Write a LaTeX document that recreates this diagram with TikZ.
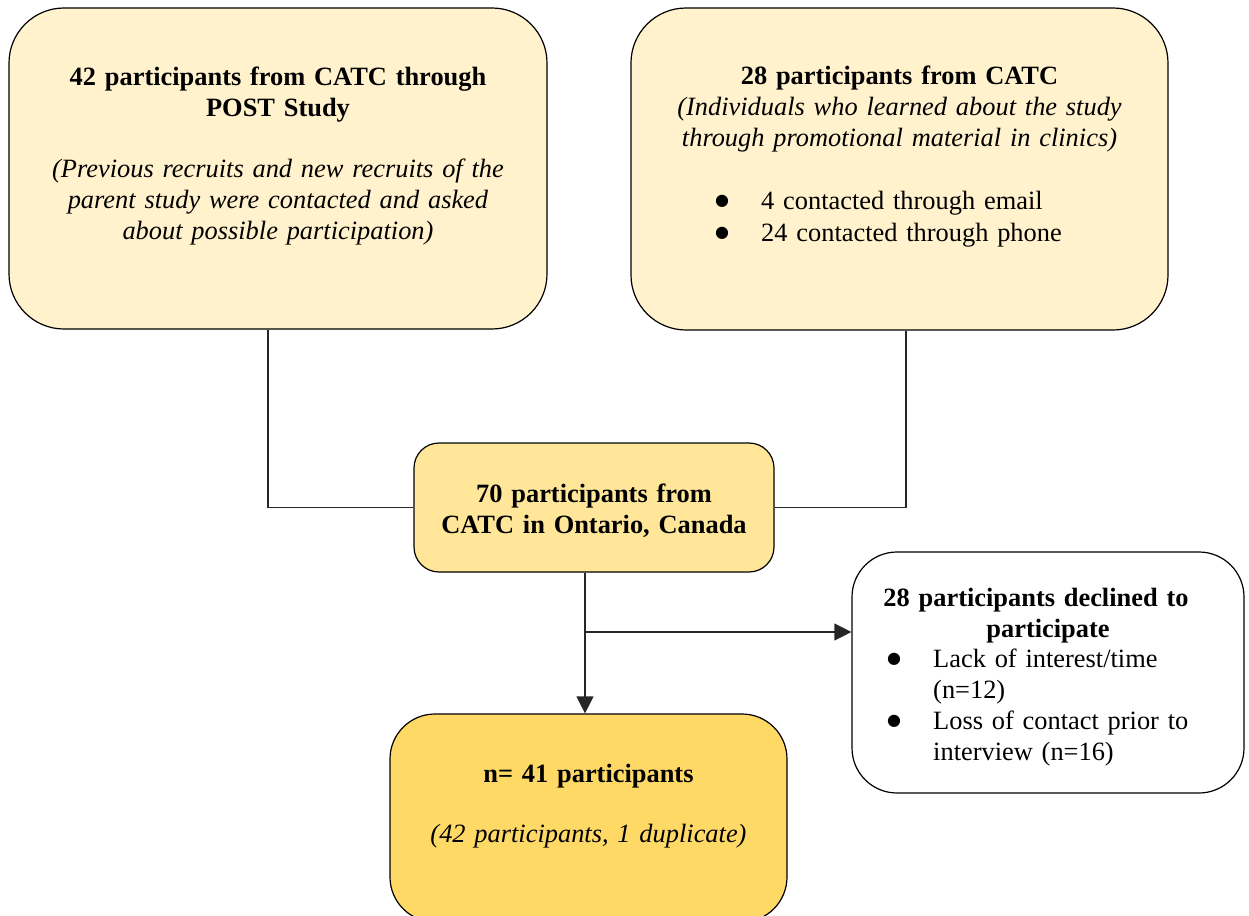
\documentclass[tikz,border=0pt]{standalone}
\usepackage{fontspec}
\setmainfont{Liberation Serif}
\newfontfamily\symfont{DejaVu Sans}
\usetikzlibrary{arrows.meta,calc}
\definecolor{paleyellow}{HTML}{FFF2CC}
\definecolor{midyellow}{HTML}{FFE699}
\definecolor{deepyellow}{HTML}{FFD966}
\tikzset{
  panel/.style={draw=black, line width=1.2pt, rounded corners=#1, inner sep=0pt},
  txt/.style={inner sep=0pt, text width=#1, align=center, anchor=base},
  bullets/.style={inner sep=0pt, text width=#1, align=left, anchor=base west},
  link/.style={draw=black!85, line width=1.2pt},
  tip/.style={link, -{Triangle[length=17pt,width=17pt]}},
  every node/.style={font=\fontsize{26.4}{31}\selectfont}
}
% list marker: a round dot with a fixed gap to the item text
\newcommand{\bul}{\makebox[46pt][l]{\raisebox{4pt}{\symfont\fontsize{16}{31}\selectfont ●}}}
\begin{document}
\begin{tikzpicture}[x=1pt,y=-1pt]
\useasboundingbox (0,0) rectangle (1249,915);

% boxes
\node[panel=55pt, fill=paleyellow, minimum width=538pt, minimum height=321pt] (boxA) at (278,168.5) {};
\node[panel=55pt, fill=paleyellow, minimum width=537pt, minimum height=322pt] (boxB) at (899.5,169) {};
\node[panel=25pt, fill=midyellow, minimum width=360pt, minimum height=129pt] (boxC) at (594,507.5) {};
\node[panel=45pt, fill=white, minimum width=392pt, minimum height=241pt] (boxD) at (1048,672.5) {};
\node[panel=45pt, fill=deepyellow, minimum width=397pt, minimum height=208pt] (boxE) at (588.5,818) {};

% texts of the upper left box
\node[txt=520pt] (tA1) at (278,86) {\textbf{42 participants from CATC through}\\\textbf{POST Study}};
\node[txt=520pt] (tA2) at (278,177) {\textit{(Previous recruits and new recruits of the}\\\textit{parent study were contacted and asked}\\\textit{about possible participation)}};

% texts of the upper right box
\node[txt=520pt] (tB1) at (899.5,85) {\textbf{28 participants from CATC}\\\textit{(Individuals who learned about the study}\\\textit{through promotional material in clinics)}};
\node[bullets=400pt] (tB2) at (715,209) {\bul 4 contacted through email\\[1pt]\bul 24 contacted through phone};

% centre box
\node[txt=350pt] (tC) at (594,502) {\textbf{70 participants from}\\\textbf{CATC in Ontario, Canada}};

% declined box
\node[txt=380pt] (tD1) at (1048,606) {\textbf{28 participants declined to}\hspace*{24pt}\mbox{}\\\textbf{participate}};
\node[bullets=340pt] (tD2) at (887,667) {\bul Lack of interest/time\\\hspace*{46pt}(n=12)\\\bul Loss of contact prior to\\\hspace*{46pt}interview (n=16)};

% final box
\node[txt=390pt] (tE1) at (588.5,782) {\textbf{n= 41 participants}};
\node[txt=390pt] (tE2) at (588.5,842) {\textit{(42 participants, 1 duplicate)}};

% connectors
\draw[link] ([xshift=-10pt]boxA.south) |- (boxC.west);
\draw[link] ([xshift=6.5pt]boxB.south) |- (boxC.east);
\coordinate (drop) at ([xshift=-9pt]boxC.south);
\coordinate (split) at (585,632);
\draw[tip] (drop) -- (drop |- boxE.north);
\draw[tip] (split) -- (split -| boxD.west);
\end{tikzpicture}
\end{document}
